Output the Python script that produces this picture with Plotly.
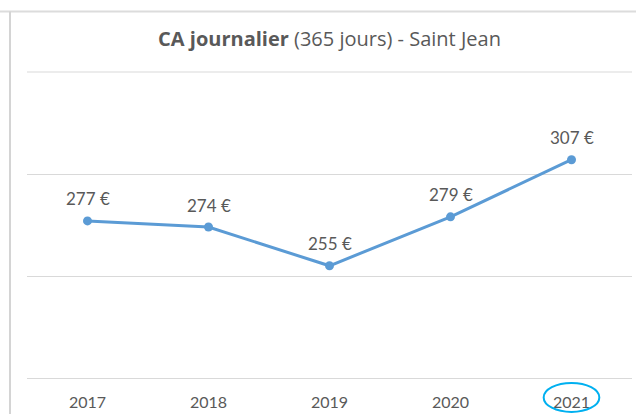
import plotly.graph_objects as go

years = ["2017", "2018", "2019", "2020", "2021"]
values = [277, 274, 255, 279, 307]
labels = ["277 €", "274 €", "255 €", "279 €", "307 €"]

FONT = "Lato"
TXT = "#595959"
BLUE = "#5B9BD5"
GRID = "#D9D9D9"

fig = go.Figure()
fig.add_trace(go.Scatter(
    x=years, y=values, mode="lines+markers",
    line=dict(color=BLUE, width=3),
    marker=dict(color=BLUE, size=9),
    hoverinfo="skip", showlegend=False,
))

for i, (y, t) in enumerate(zip(values, labels)):
    fig.add_annotation(x=i, y=y, xref="x", yref="y", text=t, showarrow=False, yshift=22,
                       font=dict(family=FONT, size=17, color=TXT))

# frame lines of the cropped chart
fig.add_shape(type="line", xref="paper", yref="paper", x0=-0.05, x1=1.01, y0=1.198, y1=1.198,
              line=dict(color="#DCDCDC", width=2))
fig.add_shape(type="line", xref="paper", yref="paper", x0=-0.0281, x1=-0.0281, y0=1.198, y1=-0.13,
              line=dict(color="#D4D4D4", width=2))
# top gridline
fig.add_shape(type="line", xref="paper", yref="paper", x0=0, x1=1, y0=1, y1=1,
              line=dict(color=GRID, width=1))
# highlight ellipse around 2021
fig.add_shape(type="circle", xref="x", yref="paper", x0=3.77, x1=4.23, y0=-0.111, y1=-0.016,
              line=dict(color="#00B0F0", width=2))

fig.update_layout(
    width=636, height=414,
    margin=dict(l=27, r=4, t=72, b=36),
    paper_bgcolor="white", plot_bgcolor="white",
    title=dict(text="<b>CA journalier</b> (365 jours) - Saint Jean", x=0.5, xref="paper",
               y=1 - 39 / 414, yref="container", yanchor="middle", xanchor="center",
               font=dict(family="Open Sans", size=20, color=TXT)),
    xaxis=dict(type="category", range=[-0.5, 4.5], showgrid=False, showline=True,
               linecolor=GRID, linewidth=1,
               ticks="outside", ticklen=10, tickcolor="rgba(0,0,0,0)",
               tickfont=dict(family=FONT, size=16, color=TXT), fixedrange=True),
    yaxis=dict(range=[200, 350], dtick=50, tick0=200, showgrid=True, gridcolor=GRID, gridwidth=1,
               showticklabels=False, zeroline=False, showline=False, fixedrange=True),
)

fig.write_html("out.html", config={"displayModeBar": False},
               post_script="document.body.style.margin='0';")
